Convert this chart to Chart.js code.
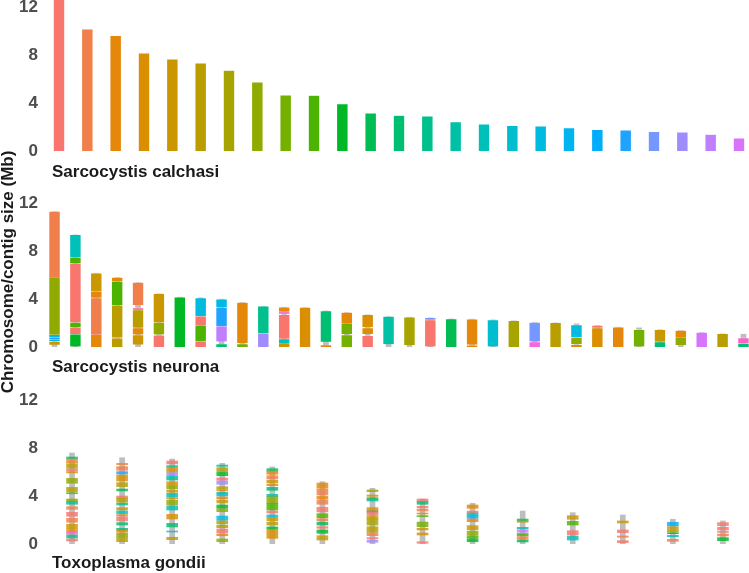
<!DOCTYPE html>
<html>
<head>
<meta charset="utf-8">
<script src="https://cdn.jsdelivr.net/npm/chart.js@4.4.1/dist/chart.umd.min.js"></script>
<style>
  html, body { margin: 0; padding: 0; background: #fff; }
  body { width: 749px; height: 573px; position: relative; overflow: hidden; font-family: "Liberation Sans", Arial, sans-serif; }
  canvas { position: absolute; left: 0; }
  .lbl { position: absolute; left: 52px; height: 20px; line-height: 20px; font-weight: bold; font-size: 17px; color: #1a1a1a; white-space: nowrap; }
  #ytitle { position: absolute; left: -142px; top: 262px; width: 300px; height: 20px; line-height: 20px; text-align: center; font-weight: bold; font-size: 17px; color: #1a1a1a; transform: rotate(-90deg); white-space: nowrap; }
</style>
</head>
<body>
<canvas id="c1" width="756" height="183" style="top:-16px"></canvas>
<canvas id="c2" width="756" height="189" style="top:174px"></canvas>
<canvas id="c3" width="753" height="191" style="top:369px"></canvas>
<div class="lbl" style="top:162px">Sarcocystis calchasi</div>
<div class="lbl" style="top:357px">Sarcocystis neurona</div>
<div class="lbl" style="top:553px">Toxoplasma gondii</div>
<div id="ytitle">Chromosome/contig size (Mb)</div>
<script>
// y tick labels shared by the three panels
const yTicks = [0, 4, 8, 12];

// S. calchasi chromosome sizes (Mb), largest first
const calchasiSizes = [12.9, 10.14, 9.6, 8.14, 7.64, 7.31, 6.7, 5.72, 4.64, 4.62, 3.92, 3.14,
  2.95, 2.89, 2.42, 2.22, 2.11, 2.06, 1.92, 1.78, 1.72, 1.61, 1.56, 1.37, 1.06];

// S. neurona contig sizes (Mb)
const neuronaSizes = [11.33, 9.38, 6.17, 5.81, 5.39, 4.45, 4.17, 4.11, 4.0, 3.72, 3.41, 3.33,
  3.3, 3.02, 2.88, 2.69, 2.55, 2.49, 2.44, 2.35, 2.33, 2.27, 2.19, 2.05, 2.02, 1.94, 1.8,
  1.66, 1.6, 1.44, 1.38, 1.21, 1.1, 1.07];

// syntenic blocks per S. neurona contig: [start, end, S. calchasi chromosome index]
const neuronaBlocks = [
  [[5.79, 11.33, 1], [1.02, 5.79, 7], [0.82, 1.02, 18], [0.65, 0.82, 20], [0.49, 0.65, 17], [0.18, 0.46, 4]],
  [[7.48, 9.38, 15], [6.98, 7.48, 9], [2.05, 6.98, 0], [1.63, 2.05, 9], [1.07, 1.63, 0], [0.04, 1.07, 10]],
  [[4.67, 6.17, 4], [4.11, 4.67, 2], [1.02, 4.11, 1], [0, 1.02, 2]],
  [[5.47, 5.81, 2], [3.47, 5.47, 9], [0.82, 3.47, 5], [0.7, 0.82, 3], [0, 0.7, 5]],
  [[3.52, 5.39, 1], [3.1, 3.27, 29], [1.6, 3.1, 5], [1.05, 1.6, 2], [0.2, 1.0, 4]],
  [[2.05, 4.45, 4], [1.05, 2.05, 7], [0, 0.99, 0]],
  [[0, 4.17, 10]],
  [[2.58, 4.11, 17], [1.77, 2.58, 0], [0.49, 1.77, 9], [0, 0.49, 0]],
  [[3.3, 4.0, 17], [1.74, 3.3, 20], [0.46, 1.74, 23], [0, 0.25, 12]],
  [[0.32, 3.72, 2], [0, 0.26, 8]],
  [[1.16, 3.41, 13], [0, 1.16, 22]],
  [[2.94, 3.33, 2], [2.85, 2.94, 27], [2.78, 2.85, 21], [0.68, 2.69, 0], [0.27, 0.68, 15], [0, 0.27, 4]],
  [[0, 3.3, 3]],
  [[0.43, 3.02, 12], [0, 0.17, 2]],
  [[1.94, 2.88, 2], [1.07, 1.94, 8], [0, 1.0, 8]],
  [[1.65, 2.69, 3], [1.08, 1.6, 3], [0, 0.95, 0]],
  [[0.23, 2.55, 14]],
  [[0.17, 2.49, 6]],
  [[2.27, 2.44, 21], [0.05, 2.27, 0]],
  [[0, 2.35, 11]],
  [[0.2, 2.33, 2], [0, 0.15, 2]],
  [[0.05, 2.27, 16]],
  [[0, 2.19, 6]],
  [[0.46, 2.05, 21], [0, 0.42, 26]],
  [[0, 2.02, 5]],
  [[0.82, 1.85, 17], [0.23, 0.8, 7], [0, 0.2, 2]],
  [[1.6, 1.8, 0], [0, 1.6, 3]],
  [[0, 1.66, 2]],
  [[0.05, 1.45, 8]],
  [[0.43, 1.44, 4], [0, 0.43, 12]],
  [[0.77, 1.38, 2], [0.17, 0.77, 7]],
  [[0, 1.21, 24]],
  [[0, 1.1, 5]],
  [[0.3, 0.76, 27], [0, 0.3, 12]]
];

// T. gondii chromosome sizes (Mb)
const gondiiSizes = [7.58, 7.19, 7.08, 6.72, 6.42, 5.19, 4.64, 3.75, 3.39, 2.75, 2.61, 2.42, 2.06, 1.92];

const gondiiBlocks = [
  [[7.11, 7.25, 12], [6.83, 7.08, 1], [6.72, 6.8, 2], [6.31, 6.64, 5], [6.08, 6.25, 0], [5.92, 6.03, 3],
   [5.06, 5.47, 7], [4.36, 4.72, 5], [4.19, 4.28, 9], [3.58, 3.75, 7], [3.31, 3.56, 13], [2.89, 3.11, 1],
   [2.31, 2.64, 0], [1.81, 2.14, 1], [1.22, 1.64, 4], [0.97, 1.17, 2], [0.81, 0.97, 26], [0.5, 0.75, 13],
   [0.25, 0.42, 0]],
  [[6.61, 6.72, 1], [6.31, 6.44, 2], [6.14, 6.28, 0], [5.83, 6.03, 20], [5.25, 5.75, 3], [4.78, 5.11, 5],
   [4.42, 4.58, 11], [3.81, 4.0, 0], [3.47, 3.81, 6], [3.25, 3.39, 13], [2.83, 3.03, 4], [2.53, 2.75, 16],
   [2.36, 2.45, 4], [1.92, 2.28, 0], [1.58, 1.78, 12], [1.14, 1.31, 12], [0.97, 1.14, 2], [0.53, 0.89, 7],
   [0.19, 0.47, 5]],
  [[6.67, 6.92, 0], [6.39, 6.53, 13], [5.97, 6.36, 3], [5.75, 5.94, 22], [5.53, 5.69, 15], [5.33, 5.5, 13],
   [4.83, 5.19, 3], [4.58, 4.81, 7], [4.31, 4.47, 4], [3.92, 4.22, 15], [3.78, 3.86, 4], [3.25, 3.67, 7],
   [2.83, 3.17, 15], [2.08, 2.47, 3], [1.42, 1.72, 12], [1.0, 1.08, 16], [0.36, 0.56, 5]],
  [[6.47, 6.58, 13], [6.03, 6.36, 5], [5.69, 5.97, 10], [5.31, 5.5, 0], [4.97, 5.25, 22], [4.58, 4.78, 5],
   [4.42, 4.53, 2], [4.19, 4.3, 13], [4.0, 4.17, 17], [3.75, 3.92, 2], [3.42, 3.64, 4], [2.97, 3.25, 10],
   [2.69, 2.92, 7], [1.97, 2.33, 17], [1.69, 1.92, 5], [1.36, 1.58, 6], [0.92, 1.25, 0], [0.69, 0.83, 2],
   [0.19, 0.42, 7]],
  [[6.08, 6.28, 12], [5.81, 6.08, 2], [5.42, 5.69, 1], [5.08, 5.31, 4], [4.86, 4.97, 2], [4.47, 4.72, 12],
   [3.94, 4.14, 14], [3.39, 3.94, 7], [2.83, 3.39, 9], [2.58, 2.75, 0], [2.25, 2.42, 16], [1.92, 2.22, 4],
   [1.58, 1.81, 5], [1.22, 1.42, 10], [0.47, 1.17, 3]],
  [[4.64, 5.08, 2], [4.08, 4.56, 1], [3.75, 3.97, 2], [3.31, 3.67, 1], [2.67, 3.06, 0], [2.19, 2.53, 9],
   [1.92, 2.11, 1], [1.58, 1.81, 11], [1.31, 1.44, 0], [0.89, 1.17, 10], [0.33, 0.69, 4]],
  [[4.36, 4.5, 6], [3.97, 4.08, 3], [3.72, 3.86, 11], [3.58, 3.72, 14], [2.75, 3.03, 2], [2.64, 2.75, 14],
   [2.42, 2.64, 0], [2.08, 2.36, 4], [1.58, 2.08, 6], [0.97, 1.44, 5], [0.69, 0.92, 1], [0.42, 0.53, 0],
   [0.14, 0.31, 22]],
  [[3.53, 3.75, 0], [3.31, 3.53, 12], [3.03, 3.14, 0], [2.75, 2.92, 1], [2.5, 2.58, 2], [2.28, 2.36, 9],
   [1.44, 1.83, 8], [1.17, 1.31, 4], [0.75, 0.92, 3], [0.06, 0.19, 0]],
  [[2.97, 3.25, 2], [2.61, 2.75, 0], [2.42, 2.58, 15], [2.14, 2.39, 19], [1.86, 2.08, 2], [1.19, 1.53, 4],
   [0.75, 1.08, 7], [0.47, 0.69, 9], [0.19, 0.42, 10]],
  [[1.92, 2.08, 12], [1.81, 1.92, 4], [1.25, 1.39, 15], [1.03, 1.17, 24], [0.83, 0.94, 22], [0.67, 0.83, 9],
   [0.39, 0.61, 1], [0.17, 0.33, 11]],
  [[2.06, 2.36, 4], [1.58, 1.89, 9], [0.78, 1.11, 0], [0.33, 0.67, 15]],
  [[1.75, 1.92, 4], [0.94, 1.17, 0], [0.56, 0.67, 1], [0.11, 0.28, 0]],
  [[1.5, 1.81, 19], [1.28, 1.44, 4], [1.0, 1.22, 5], [0.86, 0.94, 10], [0.61, 0.72, 15], [0.22, 0.39, 1]],
  [[1.53, 1.78, 0], [1.17, 1.39, 0], [0.97, 1.06, 0], [0.67, 0.83, 1], [0.28, 0.53, 10]]
];

// ggplot-style hue palette (hcl, c = 100, l = 65)
function hcl(h, c, l, a) {
  const hr = h * Math.PI / 180;
  const U = c * Math.cos(hr), V = c * Math.sin(hr);
  const Xn = 95.047, Yn = 100, Zn = 108.883;
  const Y = Yn * Math.pow((l + 16) / 116, 3);
  const t = Xn + 15 * Yn + 3 * Zn;
  const u = U / (13 * l) + 4 * Xn / t;
  const v = V / (13 * l) + 9 * Yn / t;
  const X = 9 * Y * u / (4 * v);
  const Z = Y * (12 - 3 * u - 20 * v) / (4 * v);
  const lin = [
    3.240479 * X - 1.537150 * Y - 0.498535 * Z,
    -0.969256 * X + 1.875992 * Y + 0.041556 * Z,
    0.055648 * X - 0.204043 * Y + 1.057311 * Z
  ].map(x => {
    x = x / 100;
    x = x <= 0.0031308 ? 12.92 * x : 1.055 * Math.pow(x, 1 / 2.4) - 0.055;
    return Math.round(255 * Math.min(1, Math.max(0, x)));
  });
  return 'rgba(' + lin.join(',') + ',' + a + ')';
}
const nColors = 31;
const palette = [], paletteSoft = [];
for (let i = 0; i < nColors; i++) {
  palette.push(hcl(15 + 360 * i / nColors, 100, 65, 1));
  paletteSoft.push(hcl(15 + 360 * i / nColors, 100, 65, 0.82));
}

const grey = '#bebebe';

// chart area = canvas minus 16px top and bottom (room for the tick labels)
function panel(id, n, yMax, datasets) {
  new Chart(document.getElementById(id), {
    type: 'bar',
    data: { datasets: datasets },
    options: {
      responsive: false,
      animation: false,
      layout: { autoPadding: false, padding: { left: 0, right: 0, top: 16, bottom: 16 } },
      datasets: { bar: { grouped: false } },
      plugins: { legend: { display: false }, tooltip: { enabled: false } },
      scales: {
        x: { type: 'linear', display: false, offset: false, min: -0.6, max: n - 0.4 },
        y: {
          min: 0, max: yMax,
          grid: { display: false, drawTicks: false },
          border: { display: false },
          afterBuildTicks: s => { s.ticks = yTicks.map(v => ({ value: v })); },
          afterFit: s => { s.width = 42; },
          ticks: {
            padding: 4,
            color: '#4d4d4d',
            font: { family: '"Liberation Sans", Arial, sans-serif', size: 17, weight: 'bold' }
          }
        }
      }
    }
  });
}

// panel 1: S. calchasi
panel('c1', calchasiSizes.length, 12.58, [{
  data: calchasiSizes.map((s, i) => ({ x: i, y: [0, s] })),
  backgroundColor: calchasiSizes.map((s, i) => palette[i]),
  borderColor: 'rgba(255,255,255,0.45)',
  borderWidth: 0.6,
  barThickness: 11
}]);

function blockData(blocks) {
  const out = [];
  blocks.forEach((list, i) => list.forEach(b => out.push({ x: i, y: [b[0], b[1]], c: b[2] })));
  return out;
}

// panel 2: S. neurona
panel('c2', neuronaSizes.length, 13.13, [
  {
    data: neuronaSizes.map((s, i) => ({ x: i, y: [0, s] })),
    backgroundColor: grey, barThickness: 5, order: 2
  },
  {
    data: blockData(neuronaBlocks),
    backgroundColor: ctx => palette[ctx.raw.c],
    borderColor: 'rgba(255,255,255,0.45)',
    borderWidth: 0.6,
    barThickness: 11, order: 1
  }
]);

// panel 3: T. gondii
panel('c3', gondiiSizes.length, 13.25, [
  {
    data: gondiiSizes.map((s, i) => ({ x: i, y: [0, s] })),
    backgroundColor: grey, barThickness: 5, order: 2
  },
  {
    data: blockData(gondiiBlocks),
    backgroundColor: ctx => paletteSoft[ctx.raw.c],
    borderWidth: 0,
    barThickness: 11, order: 1
  }
]);
</script>
</body>
</html>
